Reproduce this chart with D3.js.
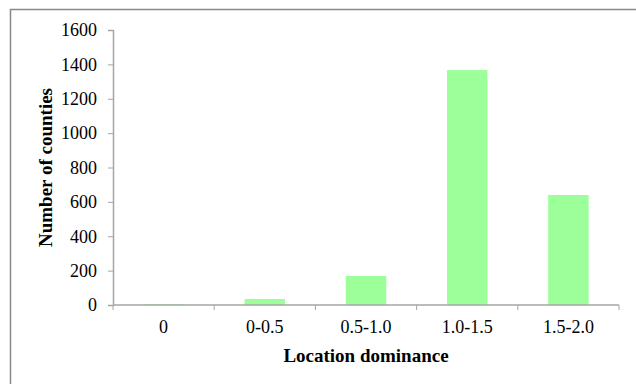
<!DOCTYPE html>
<html>
<head>
<meta charset="utf-8">
<script src="https://cdn.jsdelivr.net/npm/d3@7"></script>
<style>
body { margin: 0; background: #fff; }
</style>
</head>
<body>
<div id="chart"></div>
<script>
var categories = ['0', '0-0.5', '0.5-1.0', '1.0-1.5', '1.5-2.0'];
var counts = [5, 35, 169, 1367, 640];
var y_ticks = [0, 200, 400, 600, 800, 1000, 1200, 1400, 1600];

var w = 636;
var h = 384;
var plot_left = 113, plot_right = 619, plot_top = 30, plot_bottom = 305;
var serif = '"Liberation Serif", "Times New Roman", serif';

var data = categories.map(function(c, i) {
	return {'cat': c, 'n': counts[i]};
});

var svg = d3.select('#chart')
			.append('svg')
			.attr('width', w)
			.attr('height', h);

//frame
svg.append('rect')
	.attr('x', 10.5)
	.attr('y', 9.5)
	.attr('width', 640)
	.attr('height', 400)
	.attr('fill', 'none')
	.attr('stroke', '#888')
	.attr('stroke-width', 1.5);

var x_scale = d3.scaleBand()
				.domain(categories)
				.range([plot_left, plot_right])
				.padding(0);

var y_scale = d3.scaleLinear()
				.domain([0, 1600])
				.range([plot_bottom, plot_top]);

var bw = x_scale.bandwidth() * 0.4;

//bars
svg.selectAll('rect.bar')
	.data(data)
	.enter()
	.append('rect')
	.attr('class', 'bar')
	.attr('x', function(d) {
		return x_scale(d.cat) + (x_scale.bandwidth() - bw) / 2;
	})
	.attr('y', function(d) {
		return y_scale(d.n);
	})
	.attr('width', bw)
	.attr('height', function(d) {
		return plot_bottom - y_scale(d.n);
	})
	.attr('fill', '#9cff9a');

//y axis
var y_axis = d3.axisLeft(y_scale)
				.tickValues(y_ticks)
				.tickFormat(d3.format('d'))
				.tickSize(5)
				.tickPadding(11);

var gy = svg.append('g')
	.attr('transform', 'translate(' + plot_left + ',0)')
	.call(y_axis);

gy.select('.domain').attr('stroke', '#a6a6a6').attr('stroke-width', 1.5);
gy.selectAll('.tick line').attr('stroke', '#a6a6a6');

//x axis, ticks on the band edges
var gx = svg.append('g')
	.attr('transform', 'translate(0,' + plot_bottom + ')');

gx.append('line')
	.attr('x1', plot_left)
	.attr('x2', plot_right)
	.attr('stroke', '#a6a6a6')
	.attr('stroke-width', 1.5);

var edges = categories.map(function(c) { return x_scale(c); }).concat([plot_right]);
gx.selectAll('line.edge')
	.data(edges)
	.enter()
	.append('line')
	.attr('class', 'edge')
	.attr('x1', function(d) { return d; })
	.attr('x2', function(d) { return d; })
	.attr('y1', 0)
	.attr('y2', 5)
	.attr('stroke', '#a6a6a6');

gx.selectAll('text')
	.data(categories)
	.enter()
	.append('text')
	.attr('x', function(d) {
		return x_scale(d) + x_scale.bandwidth() / 2;
	})
	.attr('y', 28)
	.attr('text-anchor', 'middle')
	.text(function(d) { return d; });

svg.selectAll('text')
	.attr('font-family', serif)
	.attr('font-size', 18)
	.attr('fill', '#000');

//axis titles
svg.append('text')
	.attr('transform', 'translate(52,' + ((plot_top + plot_bottom) / 2) + ') rotate(-90)')
	.attr('text-anchor', 'middle')
	.attr('font-family', serif)
	.attr('font-size', 19)
	.attr('font-weight', 'bold')
	.text('Number of counties');

svg.append('text')
	.attr('x', (plot_left + plot_right) / 2)
	.attr('y', 362)
	.attr('text-anchor', 'middle')
	.attr('font-family', serif)
	.attr('font-size', 19)
	.attr('font-weight', 'bold')
	.text('Location dominance');
</script>
</body>
</html>
